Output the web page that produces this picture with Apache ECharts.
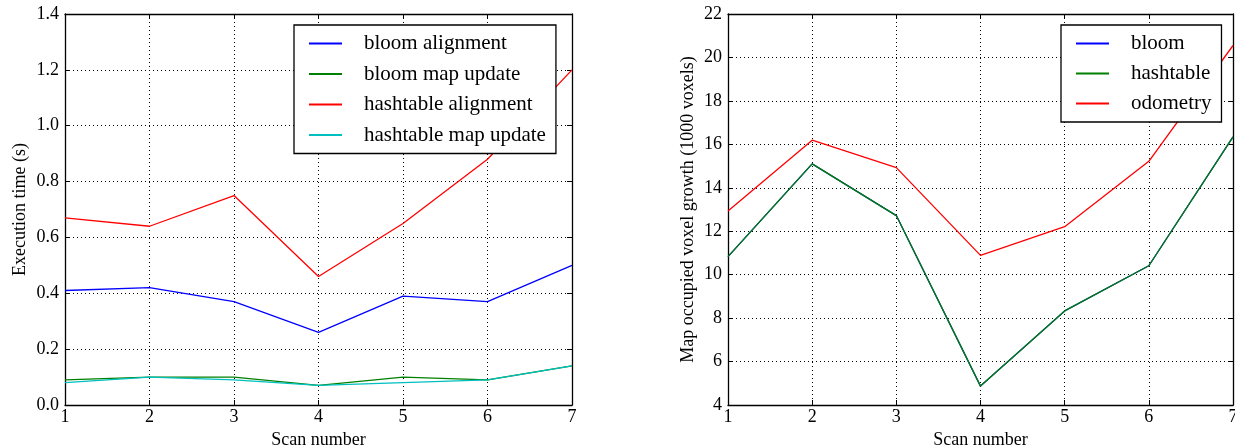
<!DOCTYPE html>
<html>
<head>
<meta charset="utf-8">
<script src="https://cdn.jsdelivr.net/npm/echarts@6/dist/echarts.min.js"></script>
<style>html,body{margin:0;padding:0;background:#fff}#c{width:1235px;height:448px}</style>
</head>
<body>
<div id="c"></div>
<script>
const scans = [1, 2, 3, 4, 5, 6, 7];
const bloomAlignment = [0.41, 0.42, 0.37, 0.26, 0.39, 0.37, 0.50];
const bloomMapUpdate = [0.09, 0.10, 0.10, 0.07, 0.10, 0.09, 0.14];
const hashAlignment = [0.67, 0.64, 0.75, 0.46, 0.65, 0.88, 1.20];
const hashMapUpdate = [0.08, 0.10, 0.09, 0.07, 0.08, 0.09, 0.14];
const bloomGrowth = [10.83, 15.1, 12.72, 4.87, 8.33, 10.41, 16.34];
const hashGrowth = [10.83, 15.1, 12.72, 4.87, 8.33, 10.41, 16.34];
const odometryGrowth = [12.93, 16.19, 14.93, 10.89, 12.21, 15.22, 20.55];

const FONT = '"Liberation Serif", "DejaVu Serif", serif';
const pair = (xs, ys) => xs.map((x, i) => [x, ys[i]]);

function xAx(gi, show) {
  return {
    type: 'value', gridIndex: gi, min: 1, max: 7, interval: 1,
    position: show ? 'bottom' : 'top',
    name: show ? 'Scan number' : '', nameLocation: 'middle', nameGap: 24,
    nameTextStyle: { fontFamily: FONT, fontSize: 18, color: '#000' },
    axisLine: { show: true, onZero: false, lineStyle: { color: '#000', width: 1.3 } },
    axisTick: { show: true, inside: true, length: 5, lineStyle: { color: '#000' } },
    axisLabel: { show: show, fontFamily: FONT, fontSize: 18, color: '#000', margin: 3 },
    splitLine: { show: show, lineStyle: { color: '#000', type: [1, 3], width: 1 } }
  };
}
function yAx(gi, show, min, max, interval, name, dec, gap) {
  return {
    type: 'value', gridIndex: gi, min: min, max: max, interval: interval,
    position: show ? 'left' : 'right',
    name: show ? name : '', nameLocation: 'middle', nameGap: gap,
    nameTextStyle: { fontFamily: FONT, fontSize: 18, color: '#000' },
    axisLine: { show: true, onZero: false, lineStyle: { color: '#000', width: 1.3 } },
    axisTick: { show: true, inside: true, length: 5, lineStyle: { color: '#000' } },
    axisLabel: { show: show, fontFamily: FONT, fontSize: 18, color: '#000', margin: 6,
      formatter: v => v.toFixed(dec) },
    splitLine: { show: show, lineStyle: { color: '#000', type: [1, 3], width: 1 } }
  };
}
function ser(name, data, color, xi, yi) {
  return { type: 'line', name: name, data: data, xAxisIndex: xi, yAxisIndex: yi,
    symbol: 'none', lineStyle: { color: color, width: 1.3 }, itemStyle: { color: color },
    animation: false, z: 3 };
}
const legendCommon = {
  orient: 'vertical', borderColor: '#000', borderWidth: 1.3, backgroundColor: '#fff',
  itemWidth: 33, itemHeight: 21, align: 'left',
  itemStyle: { opacity: 0 },
  lineStyle: { width: 2 },
  textStyle: { fontFamily: FONT, fontSize: 21, color: '#000', lineHeight: 21, padding: [0, 0, 0, 17] },
  selectedMode: false, z: 10
};

const chart = echarts.init(document.getElementById('c'), null, { renderer: 'canvas' });
chart.setOption({
  animation: false,
  backgroundColor: '#fff',
  grid: [
    { left: 65, right: 663, top: 14, bottom: 43, containLabel: false, outerBoundsMode: 'none' },
    { left: 728, right: 2, top: 14, bottom: 43, containLabel: false, outerBoundsMode: 'none' }
  ],
  xAxis: [xAx(0, true), xAx(0, false), xAx(1, true), xAx(1, false)],
  yAxis: [
    yAx(0, true, 0, 1.4, 0.2, 'Execution time (s)', 1, 36),
    yAx(0, false, 0, 1.4, 0.2, '', 1, 36),
    yAx(1, true, 4, 22, 2, 'Map occupied voxel growth (1000 voxels)', 0, 31),
    yAx(1, false, 4, 22, 2, '', 0, 31)
  ],
  legend: [
    Object.assign({}, legendCommon, { left: 294, top: 25, padding: [8, 10, 8, 14], itemGap: 9.5,
      data: ['bloom alignment', 'bloom map update', 'hashtable alignment', 'hashtable map update'] }),
    Object.assign({}, legendCommon, { left: 1061, top: 25, padding: [8, 10, 8, 14], itemGap: 9,
      data: ['bloom', 'hashtable', 'odometry'] })
  ],
  series: [
    ser('bloom alignment', pair(scans, bloomAlignment), '#0000ff', 0, 0),
    ser('bloom map update', pair(scans, bloomMapUpdate), '#008000', 0, 0),
    ser('hashtable alignment', pair(scans, hashAlignment), '#ff0000', 0, 0),
    ser('hashtable map update', pair(scans, hashMapUpdate), '#00bfbf', 0, 0),
    ser('bloom', pair(scans, bloomGrowth), '#0000ff', 2, 2),
    ser('hashtable', pair(scans, hashGrowth), '#008000', 2, 2),
    ser('odometry', pair(scans, odometryGrowth), '#ff0000', 2, 2)
  ]
});
</script>
</body>
</html>
